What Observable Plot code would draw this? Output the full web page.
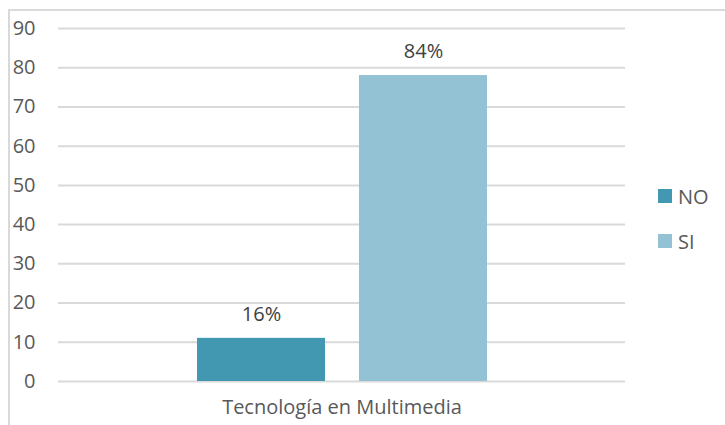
<!DOCTYPE html>
<html>
<head>
<meta charset="utf-8">
<script src="https://cdn.jsdelivr.net/npm/d3@7"></script>
<script src="https://cdn.jsdelivr.net/npm/@observablehq/plot@0.6"></script>
<style>
  html, body { margin: 0; padding: 0; background: #fff; }
  #wrap { position: relative; width: 725px; height: 425px; overflow: hidden; font-family: "Open Sans", sans-serif; }
  #frame { position: absolute; left: 8px; top: 9px; width: 800px; height: 500px; border: 2px solid #d9d9d9; box-sizing: border-box; pointer-events: none; }
  #legend { position: absolute; left: 658px; top: 183px; font-size: 20px; color: #595959; }
  .item { display: flex; align-items: center; height: 26px; margin-bottom: 19px; }
  .sw { width: 14px; height: 14px; margin-right: 6px; }
</style>
</head>
<body>
<div id="wrap">
  <div id="chart"></div>
  <div id="frame"></div>
  <div id="legend"></div>
</div>
<script>
const category = "Tecnología en Multimedia";
const series = ["NO", "SI"];
const values = [11, 78];
const labels = ["16%", "84%"];
const colors = ["#4298B0", "#92C2D4"];
const yTicks = [0, 10, 20, 30, 40, 50, 60, 70, 80, 90];

const data = series.map((s, i) => ({series: s, value: values[i], label: labels[i]}));

const chart = Plot.plot({
  width: 725,
  height: 425,
  marginLeft: 58,
  marginRight: 100,
  marginTop: 28,
  marginBottom: 44,
  style: {fontFamily: "Open Sans, sans-serif", fontSize: "20px", color: "#595959", background: "transparent"},
  x: {type: "band", domain: series, paddingInner: 0.21, paddingOuter: 0.855, axis: null},
  y: {domain: [0, 90]},
  color: {domain: series, range: colors},
  marks: [
    Plot.gridY(yTicks, {stroke: "#d9d9d9", strokeOpacity: 1, strokeWidth: 2}),
    Plot.axisY(yTicks, {tickSize: 0, tickPadding: 23, label: null, fill: "#595959", fontSize: 20}),
    Plot.barY(data, {x: "series", y: "value", fill: "series"}),
    Plot.text(data, {x: "series", y: "value", text: "label", dy: -24, fill: "#404040", fontSize: 20}),
    Plot.text([category], {text: d => d, frameAnchor: "bottom", dy: 32, fill: "#595959", fontSize: 20})
  ]
});
document.getElementById("chart").appendChild(chart);

const legend = document.getElementById("legend");
series.forEach((s, i) => {
  const item = document.createElement("div");
  item.className = "item";
  const sw = document.createElement("div");
  sw.className = "sw";
  sw.style.background = colors[i];
  const t = document.createElement("span");
  t.textContent = s;
  item.appendChild(sw);
  item.appendChild(t);
  legend.appendChild(item);
});
</script>
</body>
</html>
